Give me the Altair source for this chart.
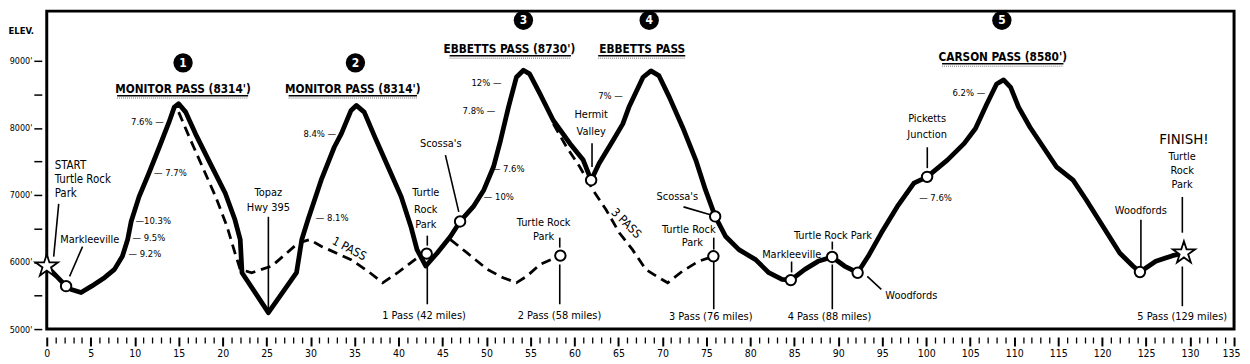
import altair as alt
import pandas as pd

FONT = "Liberation Sans Narrow, Arial Narrow, DejaVu Sans Condensed, Liberation Sans, sans-serif"
STAR = ("M0,-1L0.2245,-0.309L0.951,-0.309L0.363,0.118L0.588,0.809L0,0.382L-0.588,0.809"
        "L-0.363,0.118L-0.951,-0.309L-0.2245,-0.309Z")

# ---------------- main route (miles, elevation ft) ----------------
route_mile = [0, 2.2, 2.8, 3.9, 5.1, 6.6, 7.7, 8.6, 9.2, 9.6, 10.5, 11.6, 12.8, 13.9, 14.5, 15.0,
              15.8, 16.9, 18.4, 20.3, 21.4, 22.0, 22.2, 25.2, 28.4, 29.0, 29.7, 31.2, 32.7, 33.5,
              34.6, 35.2, 36.1, 37.3, 38.8, 40.3, 41.4, 42.1, 43.1, 44.4, 45.9, 47.0, 48.5, 49.7,
              50.8, 51.6, 52.5, 53.4, 54.2, 54.9, 56.1, 57.6, 59.5, 61.0, 61.9, 62.8, 64.4, 65.5,
              66.2, 67.8, 68.7, 69.6, 70.8, 72.3, 73.8, 74.9, 76.0, 77.2, 78.7, 80.6, 82.1, 83.6,
              84.6, 86.2, 87.7, 89.3, 90.7, 92.2, 93.4, 94.9, 96.7, 98.6, 100.1, 102.4, 104.3,
              105.6, 106.9, 108.0, 108.8, 109.6, 110.5, 111.8, 113.3, 114.8, 116.7, 118.2, 120.1,
              122.0, 123.5, 124.3, 126.1, 128.0, 129.3]
route_elev = [5940, 5640, 5590, 5545, 5640, 5770, 5890, 6085, 6335, 6605, 6975, 7320, 7715, 8085,
              8310, 8360, 8235, 7915, 7520, 7025, 6630, 6335, 5840, 5245, 5840, 6335, 6630, 7220,
              7715, 7915, 8260, 8335, 8235, 7865, 7420, 6975, 6530, 6185, 5940, 6135, 6380, 6605,
              6825, 7075, 7420, 7815, 8310, 8755, 8860, 8805, 8505, 8110, 7765, 7520, 7220, 7470,
              7815, 8060, 8310, 8755, 8850, 8780, 8455, 8010, 7520, 7075, 6680, 6380, 6185, 6035,
              5840, 5740, 5730, 5890, 6010, 6075, 5940, 5840, 6085, 6435, 6825, 7175, 7270, 7520,
              7765, 7990, 8360, 8655, 8715, 8605, 8310, 8010, 7715, 7420, 7220, 6925, 6530, 6135,
              5940, 5850, 6010, 6095, 6135]

# ---------------- dashed shortcut routes ----------------
pass1_mile = [15.0, 16.2, 17.7, 19.2, 20.5, 21.4, 22.0, 23.3, 25.6, 28.6, 29.9, 31.2, 34.6, 36.5,
              38.2, 39.9, 42.1, 43.2]
pass1_elev = [8235, 7865, 7420, 6975, 6530, 6135, 5890, 5840, 5940, 6285, 6335, 6235, 6035, 5865,
              5690, 5840, 6060, 6125]
pass2_mile = [45.9, 47.8, 50.1, 51.9, 53.4, 54.6, 56.1, 58.4]
pass2_elev = [6335, 6135, 5890, 5765, 5690, 5790, 5965, 6095]
pass3_mile = [57.6, 59.1, 60.6, 62.1, 63.6, 65.1, 66.6, 68.1, 69.3, 70.6, 72.3, 74.1, 75.8]
pass3_elev = [8060, 7715, 7420, 7075, 6780, 6435, 6185, 5890, 5790, 5690, 5865, 6010, 6085]

# ---------------- stops (open circles) ----------------
stop_mile = [2.2, 43.2, 47.0, 58.4, 61.9, 76.0, 75.8, 84.6, 89.3, 92.2, 100.1, 124.3]
stop_elev = [5640, 6125, 6605, 6095, 7220, 6680, 6085, 5730, 6075, 5840, 7270, 5850]

# start / finish stars
star_mile = [0, 129.3]
star_elev = [5940, 6135]

# ---------------- pass headings ----------------
num_label = ["1", "2", "3", "4", "5"]
num_mile = [15.5, 35.1, 54.2, 68.5, 108.6]
num_elev = [8970, 8970, 9605, 9605, 9605]
title_label = ["MONITOR PASS (8314')", "MONITOR PASS (8314')", "EBBETTS PASS (8730')",
               "EBBETTS PASS", "CARSON PASS (8580')"]
title_mile = [15.5, 34.8, 52.6, 67.7, 108.7]
title_elev = [8585, 8585, 9178, 9178, 9060]
uline_m1 = [8.0, 27.5, 45.8, 62.7, 101.8]
uline_m2 = [22.9, 42.1, 59.6, 72.6, 115.6]
uline_elev = [8480, 8480, 9075, 9075, 8955]
shadow_elev = [8445, 8445, 9040, 9040, 8920]

# ---------------- grades ----------------
gradeR_label = ["7.6% \u2014", "8.4% \u2014", "12% \u2014", "7.8% \u2014", "7% \u2014", "6.2% \u2014"]
gradeR_mile = [13.3, 32.9, 51.7, 51.0, 65.5, 106.7]
gradeR_elev = [8085, 7905, 8665, 8245, 8480, 8515]
gradeL_label = ["\u2014 7.7%", "\u201410.3%", "\u2014 9.5%", "\u2014 9.2%", "\u2014 8.1%",
                "\u2014 7.6%", "\u2014 10%", "\u2014 7.6%"]
gradeL_mile = [12.2, 10.1, 9.75, 9.3, 30.6, 50.6, 49.7, 99.2]
gradeL_elev = [7330, 6605, 6360, 6120, 6660, 7380, 6975, 6950]

# ---------------- place names ----------------
start_label = ["START", "Turtle Rock", "Park"]
start_mile = [0.9, 0.9, 0.9]
start_elev = [7430, 7222, 7015]
place_label = ["Markleeville", "Topaz", "Hwy 395", "Turtle", "Rock", "Park", "1 Pass (42 miles)",
               "Scossa's", "Turtle Rock", "Park", "2 Pass (58 miles)", "Hermit", "Valley",
               "Scossa's", "Turtle Rock", "Park", "3 Pass (76 miles)", "Markleeville",
               "Turtle Rock Park", "4 Pass (88 miles)", "Woodfords", "Picketts", "Junction",
               "Woodfords", "Turtle", "Rock", "Park", "5 Pass (129 miles)"]
place_mile = [4.9, 25.2, 25.2, 43.1, 43.1, 43.1, 42.9, 44.8, 56.5, 56.5, 58.3, 61.9, 61.9,
              71.7, 73.0, 73.4, 75.5, 84.7, 89.4, 89.0, 98.3, 100.1, 100.1, 124.4, 129.1,
              129.1, 129.1, 129.1]
place_elev = [6333, 7030, 6807, 7025, 6778, 6556, 5193, 7766, 6585, 6378, 5193, 8185, 7938,
              6975, 6482, 6284, 5178, 6111, 6393, 5178, 5489, 8136, 7899, 6767, 7559, 7360,
              7148, 5178]
finish_label = ["FINISH!"]
finish_mile = [129.3]
finish_elev = [7840]

# leader lines (from -> to)
lead_m1 = [1.36, 4.07, 25.2, 43.27, 43.27, 45.33, 58.33, 58.33, 62.0, 72.4, 75.84, 75.84,
           84.69, 89.32, 89.32, 93.3, 100.12, 124.41, 129.12, 129.12]
lead_e1 = [6867, 6230, 6674, 6393, 5993, 7593, 6363, 5963, 7770, 6822, 6363, 6007, 6007,
           6304, 5963, 5785, 7711, 6630, 6970, 5933]
lead_m2 = [0.79, 2.6, 25.2, 43.27, 43.27, 46.85, 58.33, 58.33, 62.0, 75.46, 75.84, 75.84,
           84.69, 89.32, 89.32, 94.89, 100.12, 124.41, 129.12, 129.12]
lead_e2 = [6081, 5785, 5252, 6244, 5370, 6748, 6215, 5370, 7415, 6704, 6185, 5296, 5844,
           6185, 5296, 5593, 7400, 5933, 6437, 5341]

# labels on the dashed routes
pass_tag = ["1  PASS", "3  PASS"]
pass_tag_mile = [34.4, 65.9]
pass_tag_elev = [6200, 6580]

# y axis ticks / x axis ticks
y_ticks = [5000, 5500, 6000, 6500, 7000, 7500, 8000, 8500, 9000]
x_ticks = list(range(0, 136))

# ---------------- scales & axes (shared by every layer) ----------------
xs = alt.Scale(domain=[0, 135], nice=False, zero=False)
ys = alt.Scale(domain=[5000, 9741], nice=False, zero=False)

XAX = alt.Axis(
    values=x_ticks, title=None, offset=8, labelPadding=3,
    labelExpr="datum.value % 5 === 0 ? datum.label : ''",
    tickSize={"condition": {"test": "datum.value % 5 === 0", "value": 9}, "value": 6},
    tickWidth={"condition": {"test": "datum.value % 5 === 0", "value": 2}, "value": 1.3},
    labelOffset={"condition": {"test": "datum.value === 135", "value": -3}, "value": 0},
    tickColor="black", labelColor="black", labelFont=FONT, labelFontSize=10.5,
    labelFlush=False, labelOverlap=False, labelBound=False, grid=False, domain=False)
YAX = alt.Axis(
    values=y_ticks,
    labelExpr="datum.value % 1000 === 0 ? datum.value + \"'\" : ''",
    tickSize=8, tickWidth=1.5, tickColor="black", offset=5, labelPadding=2,
    labelColor="black", labelFont=FONT, labelFontSize=9,
    labelOverlap=False, grid=False, domain=False,
    title="ELEV.", titleAngle=0, titleX=-34, titleY=20, titleAlign="left",
    titleBaseline="middle", titleFont=FONT, titleFontSize=9.5, titleFontWeight="bold",
    titleColor="black")


def xy(xf="mile", yf="elev"):
    return dict(x=alt.X(f"{xf}:Q", scale=xs, axis=XAX), y=alt.Y(f"{yf}:Q", scale=ys, axis=YAX))


route_df = pd.DataFrame({"mile": route_mile, "elev": route_elev})
main = alt.Chart(route_df).mark_line(color="black", strokeWidth=4.8, strokeJoin="round",
                                     strokeCap="round").encode(**xy())


def dashed(m, e):
    df = pd.DataFrame({"mile": m, "elev": e})
    return alt.Chart(df).mark_line(color="black", strokeWidth=2.8, strokeDash=[10, 6]).encode(**xy())


lead_df = pd.DataFrame({"m1": lead_m1, "e1": lead_e1, "m2": lead_m2, "e2": lead_e2})
leaders = alt.Chart(lead_df).mark_rule(color="black", strokeWidth=1.6).encode(
    x2="m2:Q", y2="e2:Q", **xy("m1", "e1"))

ul_df = pd.DataFrame({"m1": uline_m1, "m2": uline_m2, "elev": uline_elev, "shadow": shadow_elev})
underline = alt.Chart(ul_df).mark_rule(color="black", strokeWidth=1.5).encode(
    x2="m2:Q", **xy("m1", "elev"))
underline2 = alt.Chart(ul_df).mark_rule(color="#777777", strokeWidth=1, strokeDash=[1, 1]).encode(
    x2="m2:Q", **xy("m1", "shadow"))

stops = alt.Chart(pd.DataFrame({"mile": stop_mile, "elev": stop_elev})).mark_point(
    shape="circle", size=110, filled=True, fill="white", stroke="black", strokeWidth=2,
    opacity=1).encode(**xy())

stars = alt.Chart(pd.DataFrame({"mile": star_mile, "elev": star_elev})).mark_point(
    shape=STAR, size=560, filled=True, fill="white", stroke="black", strokeWidth=1.8,
    opacity=1).encode(**xy())

num_df = pd.DataFrame({"mile": num_mile, "elev": num_elev, "label": num_label})
num_dots = alt.Chart(num_df).mark_point(shape="circle", size=380, filled=True, color="black",
                                        opacity=1).encode(**xy())
num_txt = alt.Chart(num_df).mark_text(color="white", font=FONT, fontSize=12, fontWeight="bold",
                                      baseline="middle").encode(text="label:N", **xy())


def texts(labels, m, e, **kw):
    df = pd.DataFrame({"mile": m, "elev": e, "label": labels})
    base = dict(color="black", font=FONT, baseline="middle")
    base.update(kw)
    return alt.Chart(df).mark_text(**base).encode(text="label:N", **xy())


layers = [
    dashed(pass1_mile, pass1_elev),
    dashed(pass2_mile, pass2_elev),
    dashed(pass3_mile, pass3_elev),
    main,
    leaders,
    underline2,
    underline,
    stops,
    stars,
    num_dots,
    num_txt,
    texts(title_label, title_mile, title_elev, fontSize=11.8, fontWeight="bold", align="center"),
    texts(gradeR_label, gradeR_mile, gradeR_elev, fontSize=9.5, align="right"),
    texts(gradeL_label, gradeL_mile, gradeL_elev, fontSize=9.5, align="left"),
    texts(start_label, start_mile, start_elev, fontSize=11.5, align="left"),
    texts(place_label, place_mile, place_elev, fontSize=11, align="center"),
    texts(finish_label, finish_mile, finish_elev, fontSize=15, align="center"),
    texts(pass_tag[:1], pass_tag_mile[:1], pass_tag_elev[:1], fontSize=12, align="center", angle=28),
    texts(pass_tag[1:], pass_tag_mile[1:], pass_tag_elev[1:], fontSize=12, align="center", angle=45),
]

chart = alt.layer(*layers).properties(
    width=1195, height=320,
    padding={"left": 39, "top": 2, "right": 8, "bottom": 34},
    autosize=alt.AutoSizeParams(type="none"),
).configure_view(stroke="black", strokeWidth=3).configure_axis(grid=False, domain=False)

chart.save("out.html", embed_options={"renderer": "svg", "actions": False})
